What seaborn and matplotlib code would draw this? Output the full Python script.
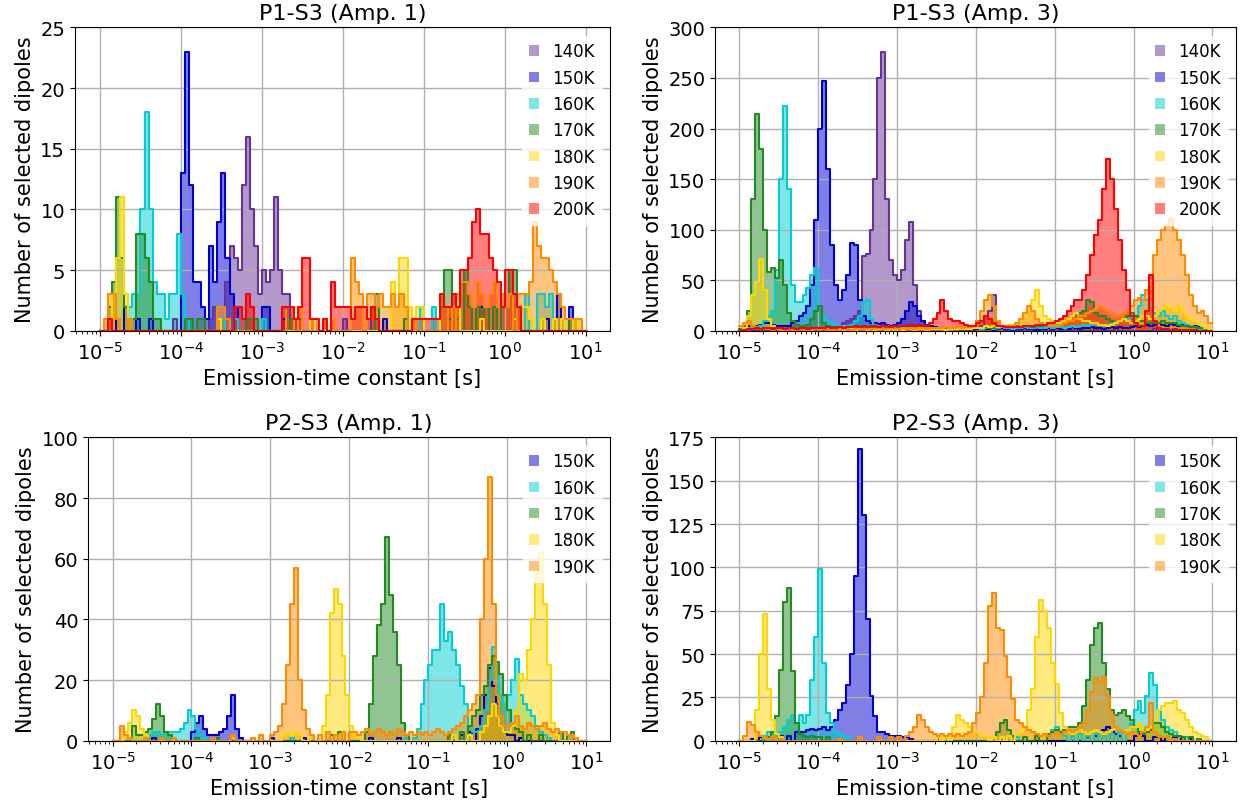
import numpy as np
import matplotlib
matplotlib.use("Agg")
import matplotlib.pyplot as plt
from matplotlib.patches import Patch
import seaborn as sns

# histogram bins: 20 per decade between 1e-5 s and 1e1 s (120 bins)
n_bins = 120
log_centers = np.linspace(-4.975, 0.975, n_bins)

temps_p1 = ["140K", "150K", "160K", "170K", "180K", "190K", "200K"]
temps_p2 = ["150K", "160K", "170K", "180K", "190K"]

colors = {
    "140K": "rebeccapurple",
    "150K": "mediumblue",
    "160K": "darkturquoise",
    "170K": "forestgreen",
    "180K": "gold",
    "190K": "darkorange",
    "200K": "red",
}

# counts per bin, one line per decade (1e-5, 1e-4, ... 1e0)
# --- P1-S3, Amp. 1 ---
p1_a1_140 = [0,0,0,0,0,0,0,0,0,0, 0,0,0,0,0,0,0,0,1,0,
             0,0,0,0,0,0,0,1,2,0, 1,4,7,6,5,12,16,10,7,3,
             5,4,5,11,5,3,3,1,0,1, 0,0,0,0,0,0,0,0,0,0,
             1,0,0,0,0,0,0,2,0,0, 0,0,0,0,0,0,0,0,0,0,
             0,0,0,0,0,0,1,0,0,0, 0,0,0,0,0,0,0,0,0,0,
             0,0,0,0,0,0,0,0,0,0, 1,0,0,0,0,0,0,0,0,0]
p1_a1_150 = [0,0,0,0,1,0,2,0,0,1, 0,0,1,0,0,0,0,0,0,0,
             13,23,12,4,4,2,1,7,4,9, 13,6,3,2,0,0,0,0,0,0,
             2,2,0,0,0,1,0,0,1,0, 0,0,0,0,0,0,0,0,0,0,
             0,0,0,0,0,0,0,0,0,0, 1,0,0,0,0,0,0,0,0,0,
             0,0,0,0,0,0,0,0,0,0, 0,0,0,0,2,0,0,0,0,0,
             0,0,0,0,0,0,0,0,0,0, 1,0,0,3,0,0,2,0,0,0]
p1_a1_160 = [0,0,0,0,0,0,0,2,3,3, 10,18,10,4,3,3,1,3,3,8,
             3,0,1,0,0,0,0,0,0,0, 1,0,0,1,0,0,0,0,0,0,
             1,0,0,0,0,0,0,0,0,0, 0,0,0,0,0,0,0,0,0,0,
             0,0,0,0,0,0,0,0,0,0, 0,0,0,0,0,0,0,0,0,2,
             0,0,2,0,0,0,0,0,0,0, 0,0,0,0,0,0,0,0,0,0,
             0,0,0,0,0,3,0,0,3,3, 2,3,1,0,1,0,0,0,0,0]
p1_a1_170 = [0,0,2,4,11,6,2,1,1,8, 8,6,4,1,1,0,0,0,0,0,
             0,1,1,0,1,1,0,0,0,0, 0,0,0,0,0,0,1,1,1,0,
             0,0,0,0,0,0,0,1,0,0, 0,0,0,0,0,0,0,0,0,0,
             0,0,0,0,0,0,0,0,3,0, 0,0,0,0,0,1,0,0,0,0,
             0,0,0,0,2,5,5,3,1,0, 5,2,0,2,0,2,0,2,0,3,
             2,5,5,2,0,0,0,0,0,0, 0,0,1,0,0,0,1,1,0,0]
p1_a1_180 = [0,0,1,3,6,11,3,1,0,0, 0,0,0,0,0,0,0,0,0,0,
             0,0,0,0,0,0,0,0,0,1, 0,0,0,0,0,0,0,0,0,0,
             0,0,0,0,0,0,0,0,0,0, 0,0,1,0,0,0,0,0,0,0,
             0,0,0,0,0,0,0,0,0,0, 0,0,4,2,6,6,2,0,2,2,
             0,0,0,0,3,2,2,2,2,0, 0,0,0,0,1,0,0,0,0,0,
             0,0,1,0,2,2,1,0,0,1, 0,0,1,0,1,0,0,1,0,0]
p1_a1_190 = [0,1,3,3,1,0,0,1,0,0, 0,0,0,0,0,0,0,0,0,0,
             0,0,0,0,0,0,0,0,0,2, 2,1,0,0,0,0,0,0,0,0,
             0,0,0,0,0,0,2,2,0,2, 0,0,0,0,0,1,0,1,0,0,
             0,0,6,4,3,0,3,3,2,3, 2,2,3,2,3,2,0,1,0,0,
             0,0,0,0,0,0,2,0,3,4, 4,3,2,4,3,2,3,4,2,3,
             2,3,0,3,3,3,4,9,7,6, 6,5,4,3,2,1,1,1,1,0]
p1_a1_200 = [0,0,1,0,0,0,0,0,0,0, 0,0,0,0,0,0,0,0,0,0,
             0,0,0,0,0,0,0,0,0,0, 0,0,0,2,2,1,3,2,0,0,
             0,0,0,0,0,2,2,2,1,2, 6,6,1,1,0,1,0,4,2,2,
             2,2,1,2,2,2,1,2,1,0, 0,0,0,0,0,0,0,1,1,1,
             1,1,1,1,3,2,2,3,2,5, 5,6,9,10,8,8,6,5,4,2,
             5,5,3,2,0,0,0,0,0,0, 0,0,0,0,0,0,0,0,0,0]

# --- P1-S3, Amp. 3 ---
p1_a3_140 = [0,0,2,0,0,2,0,0,3,0, 0,0,3,0,0,3,0,3,0,0,
             3,0,3,0,5,0,8,10,12,15, 20,74,76,100,150,250,276,130,70,55,
             50,60,90,108,45,20,10,5,4,4, 3,3,3,2,2,2,0,0,0,0,
             3,5,15,20,35,10,3,0,0,0, 0,0,0,0,0,0,0,0,0,0,
             0,0,0,0,0,2,0,0,0,0, 2,0,0,0,0,2,0,0,0,0,
             0,0,0,0,0,2,0,0,0,0, 2,0,0,0,0,1,0,0,0,0]
p1_a3_150 = [1,3,5,5,5,6,8,8,6,5, 5,5,5,8,10,15,18,25,45,110,
             200,247,160,85,45,30,40,55,87,85, 30,15,10,8,8,7,8,6,5,6,
             8,12,20,28,25,15,10,6,5,4, 3,3,2,2,2,2,2,2,2,2,
             2,3,2,2,1,2,3,2,2,1, 2,2,3,2,2,1,2,2,3,2,
             3,2,3,2,4,3,2,3,3,4, 3,3,2,3,4,3,4,3,3,4,
             5,4,5,6,5,6,8,6,5,7, 6,5,6,5,4,5,4,3,2,1]
p1_a3_160 = [1,1,2,3,4,5,10,15,20,60, 150,222,140,45,28,28,35,42,55,62,
             25,15,10,8,6,5,5,5,6,10, 15,28,30,12,6,5,4,3,3,3,
             3,3,3,2,3,2,2,3,2,2, 3,2,2,3,2,2,3,2,2,3,
             3,2,3,3,2,3,4,3,3,2, 3,3,4,3,3,4,3,3,4,3,
             4,4,3,4,5,4,5,6,5,6, 7,6,5,6,7,8,10,12,12,14,
             15,25,35,30,25,18,15,20,15,12, 15,10,8,6,5,4,3,2,1,1]
p1_a3_170 = [2,5,20,130,214,180,100,58,62,52, 70,45,18,10,6,5,5,6,12,20,
             25,8,5,4,3,3,3,3,4,3, 3,4,3,3,2,3,2,3,2,2,
             3,2,2,3,2,2,3,2,2,3, 2,3,2,2,3,2,2,3,2,3,
             3,3,4,3,3,4,5,4,4,5, 5,4,5,5,4,5,5,6,5,5,
             5,8,10,12,15,15,18,20,30,28, 18,15,15,12,10,8,10,12,15,18,
             15,12,10,8,8,8,8,10,8,8, 8,6,5,5,4,4,3,3,2,1]
p1_a3_180 = [0,3,15,35,48,71,40,12,5,3, 3,2,2,2,2,2,1,2,2,3,
             3,2,2,1,2,2,1,2,2,1, 2,2,1,2,1,2,2,1,2,1,
             2,1,2,2,1,2,2,1,2,2, 2,2,1,2,2,2,2,2,2,3,
             3,3,5,4,5,4,5,5,6,6, 8,10,15,20,30,40,25,15,12,10,
             8,8,10,12,15,18,12,10,10,8, 8,6,6,5,6,8,10,12,10,8,
             10,12,15,15,12,15,20,22,25,22, 20,25,18,15,12,10,8,5,3,2]
p1_a3_190 = [5,8,10,5,3,2,2,2,1,2, 1,1,2,1,1,2,1,1,1,2,
             1,2,1,1,2,1,2,2,1,2, 2,2,2,2,2,3,2,2,3,2,
             2,3,2,3,2,3,3,2,3,3, 3,3,4,3,3,4,3,4,4,5,
             10,20,30,35,25,10,5,5,5,5, 8,12,18,25,20,12,8,6,5,5,
             5,6,8,10,10,12,15,15,18,20, 22,25,22,20,18,15,15,18,20,25,
             30,32,30,40,55,75,90,100,105,111, 100,90,75,55,35,25,18,20,15,8]
p1_a3_200 = [0,1,2,2,3,2,3,3,2,3, 3,2,3,3,2,3,3,2,3,3,
             3,3,4,3,3,4,3,4,4,5, 4,5,4,5,5,4,5,5,4,5,
             5,5,5,6,5,6,5,5,8,12, 18,30,20,12,10,10,8,6,5,5,
             8,10,15,12,8,5,5,4,4,4, 4,4,5,5,5,6,6,6,8,8,
             10,12,15,20,25,30,30,40,55,75, 95,110,140,170,150,120,90,60,40,15,
             8,5,5,20,55,10,3,2,2,1, 1,1,1,1,1,1,0,0,0,0]

# --- P2-S3, Amp. 1 ---
p2_a1_150 = [0,0,0,0,0,0,0,0,0,0, 1,0,0,0,0,0,0,0,0,0,
             3,6,8,4,2,2,2,3,4,8, 15,4,1,0,0,0,0,0,0,0,
             1,0,0,0,0,0,0,0,1,0, 0,0,0,0,0,0,0,0,0,0,
             0,0,0,0,0,1,0,0,0,0, 0,0,1,0,0,0,0,0,0,0,
             0,0,0,0,0,2,0,0,2,0, 3,0,4,8,15,24,18,12,5,3,
             2,2,0,1,0,0,0,0,0,0, 0,0,0,0,0,0,0,0,0,0]
p2_a1_160 = [0,0,0,0,0,0,0,0,0,2, 3,3,2,3,3,3,3,4,6,10,
             8,4,2,1,0,0,0,0,0,0, 0,0,0,0,0,0,0,0,0,0,
             0,0,0,0,0,1,0,0,0,0, 0,0,0,0,0,0,0,0,0,0,
             0,0,0,0,0,0,0,0,0,0, 0,0,0,0,1,0,1,4,12,20,
             25,30,30,45,33,36,30,25,18,12, 5,3,3,5,10,20,31,25,15,12,
             15,20,27,15,12,10,8,5,3,2, 1,0,0,0,0,0,0,0,0,0]
p2_a1_170 = [0,0,0,0,0,5,2,2,3,4, 7,12,8,3,2,0,0,0,0,0,
             0,1,0,0,0,0,1,0,0,0, 0,0,0,0,0,0,0,0,0,0,
             0,0,0,0,0,0,0,0,0,0, 0,0,0,0,0,2,0,3,0,0,
             0,0,0,0,3,12,28,38,45,67, 48,36,25,6,2,0,0,0,0,0,
             0,0,0,0,0,2,0,0,3,0, 5,8,10,15,18,25,28,26,22,15,
             10,6,4,3,0,2,0,0,2,0, 0,0,0,3,0,2,3,0,0,0]
p2_a1_180 = [0,0,0,3,6,10,8,4,2,0, 0,0,0,0,0,0,0,0,0,0,
             0,0,0,0,0,0,0,0,0,0, 1,0,0,0,0,0,0,0,0,0,
             0,0,0,2,3,2,3,2,0,0, 2,0,0,5,15,42,50,45,28,15,
             5,2,1,0,0,0,0,0,0,0, 0,0,0,0,0,0,0,0,0,0,
             0,0,0,0,0,0,2,0,0,0, 2,0,0,3,5,8,12,8,5,3,
             3,5,10,22,20,30,40,55,62,45, 25,6,2,0,0,0,0,0,0,0]
p2_a1_190 = [0,0,5,2,1,0,0,0,1,0, 0,0,1,0,0,1,0,0,0,0,
             0,0,0,0,0,1,0,0,0,0, 2,0,0,0,0,1,0,2,0,0,
             2,3,5,12,25,45,57,20,10,4, 2,0,2,0,3,0,2,0,3,0,
             3,3,2,3,4,2,3,4,3,2, 3,2,4,3,2,3,2,3,2,3,
             2,3,4,3,2,3,4,5,6,8, 10,12,15,40,60,87,45,15,8,5,
             5,6,8,5,4,6,5,4,5,6, 4,3,4,3,3,2,2,1,0,0]

# --- P2-S3, Amp. 3 ---
p2_a3_150 = [0,0,0,1,0,2,0,0,2,0, 3,0,3,0,5,5,5,6,7,6,
             7,8,6,8,12,18,22,32,50,95, 168,130,70,26,14,5,5,4,3,3,
             3,2,2,1,0,0,0,0,0,0, 0,0,0,0,0,0,0,0,0,0,
             0,0,0,0,0,0,0,0,0,0, 0,0,0,0,0,0,0,0,0,0,
             0,0,0,0,0,0,0,0,2,0, 3,5,6,8,6,4,3,0,0,0,
             3,4,3,0,0,2,3,0,2,0, 2,0,2,0,1,0,0,0,0,0]
p2_a3_160 = [0,0,0,0,0,0,3,5,4,3, 5,8,12,15,10,15,10,15,35,60,
             99,45,16,10,5,4,3,2,0,0, 0,0,0,0,0,0,0,0,0,0,
             0,0,0,0,0,0,0,0,0,0, 0,0,0,0,0,0,0,0,0,0,
             0,0,0,0,0,0,0,0,0,0, 2,0,0,0,0,3,0,0,4,6,
             8,5,3,0,3,0,4,0,3,0, 4,0,3,0,4,0,5,0,6,10,
             18,23,16,26,39,32,18,12,8,6, 5,3,2,2,0,0,0,0,0,0]
p2_a3_170 = [0,0,0,0,0,0,0,2,5,14, 41,80,88,40,10,4,3,2,3,2,
             2,0,2,0,0,1,0,0,0,0, 0,0,0,0,0,0,0,0,0,0,
             0,0,0,0,0,0,0,0,0,0, 1,0,0,0,0,0,0,0,0,0,
             0,0,0,0,0,5,10,12,6,3, 0,0,2,0,0,3,0,0,4,5,
             6,5,6,8,8,8,10,20,35,55, 65,68,45,30,18,15,16,18,14,12,
             8,5,4,5,6,10,10,8,5,4, 3,3,2,0,2,0,1,0,0,0]
p2_a3_180 = [0,0,0,0,18,50,73,30,12,4, 2,0,0,0,0,0,0,0,0,0,
             0,0,0,0,0,0,0,0,0,0, 0,0,0,0,0,0,0,0,0,0,
             0,0,0,0,0,0,0,0,0,0, 2,0,3,0,8,15,12,10,8,6,
             5,3,3,0,2,0,2,0,3,0, 4,5,8,18,30,60,81,75,65,45,
             33,16,8,5,4,5,6,5,4,5, 6,5,4,5,6,8,6,5,6,8,
             8,10,8,6,8,12,18,20,22,22, 23,18,16,12,8,5,4,3,2,0]
p2_a3_190 = [0,3,11,9,5,3,2,0,2,0, 1,0,0,0,0,0,0,0,0,0,
             0,0,0,0,0,1,0,0,0,0, 2,0,0,0,0,2,0,0,2,0,
             2,0,3,5,8,15,12,8,5,4, 3,4,3,4,3,4,3,4,5,10,
             16,25,45,78,85,65,64,49,37,24, 12,10,8,6,5,4,3,4,3,4,
             5,4,5,6,5,6,8,10,18,28, 36,34,37,26,15,8,6,5,4,5,
             4,3,5,8,22,5,3,2,2,0, 1,0,0,0,0,0,0,0,0,0]

panels = [
    ("P1-S3 (Amp. 1)", temps_p1,
     [p1_a1_140, p1_a1_150, p1_a1_160, p1_a1_170, p1_a1_180, p1_a1_190, p1_a1_200], 25),
    ("P1-S3 (Amp. 3)", temps_p1,
     [p1_a3_140, p1_a3_150, p1_a3_160, p1_a3_170, p1_a3_180, p1_a3_190, p1_a3_200], 300),
    ("P2-S3 (Amp. 1)", temps_p2,
     [p2_a1_150, p2_a1_160, p2_a1_170, p2_a1_180, p2_a1_190], 100),
    ("P2-S3 (Amp. 3)", temps_p2,
     [p2_a3_150, p2_a3_160, p2_a3_170, p2_a3_180, p2_a3_190], 175),
]

# axes boxes (left, bottom, width, height) measured on the reference
boxes = [
    [0.0601, 0.5868, 0.4290, 0.3778],
    [0.5734, 0.5868, 0.4178, 0.3778],
    [0.0706, 0.0763, 0.4186, 0.3778],
    [0.5734, 0.0763, 0.4178, 0.3778],
]

decade_ticks = 10.0 ** np.arange(-5, 2)

plt.rcParams["xtick.labelsize"] = 14
plt.rcParams["ytick.labelsize"] = 14

fig = plt.figure(figsize=(12.47, 8.03), dpi=100)

for (title, temps, series, ymax), box in zip(panels, boxes):
    ax = fig.add_axes(box)
    for temp, counts in zip(temps, series):
        c = colors[temp]
        w = np.array(counts, dtype=float)
        # filled area
        sns.histplot(x=10 ** log_centers, weights=w,
                     bins=n_bins, binrange=(-5, 1), log_scale=True,
                     element="step", fill=True, alpha=0.5, color=c,
                     linewidth=0, ax=ax)
        # outline
        sns.histplot(x=10 ** log_centers, weights=w,
                     bins=n_bins, binrange=(-5, 1), log_scale=True,
                     element="step", fill=False, color=c,
                     linewidth=1.5, ax=ax)
    ax.set_xticks(decade_ticks)
    ax.set_xlim(10 ** -5.31, 10 ** 1.30)
    ax.set_ylim(0, ymax)
    ax.grid(True, which="major", color="#b0b0b0", linewidth=1.0)
    ax.set_title(title, fontsize=16)
    ax.set_xlabel("Emission-time constant [s]", fontsize=15)
    ax.set_ylabel("Number of selected dipoles", fontsize=15)
    handles = [Patch(facecolor=colors[t], alpha=0.5, label=t) for t in temps]
    ax.legend(handles=handles, loc="upper right", fontsize=12,
              handlelength=0.6, handleheight=0.6, edgecolor="white")

fig.savefig("out.png", dpi=100)
